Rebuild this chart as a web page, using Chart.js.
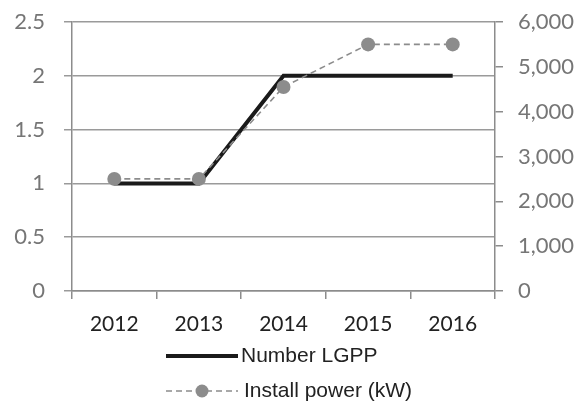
<!DOCTYPE html>
<html>
<head>
<meta charset="utf-8">
<script src="https://cdn.jsdelivr.net/npm/chart.js@4"></script>
<style>
  html, body { margin: 0; padding: 0; background: #fff; }
  #wrap { width: 583px; height: 407px; }
</style>
</head>
<body>
<div id="wrap"><canvas id="graph" width="583" height="407"></canvas></div>
<script>
// donnees du graphique
var annees = ["2012", "2013", "2014", "2015", "2016"];
var nombreLGPP = [1, 1, 2, 2, 2];
var puissance = [2500, 2500, 4550, 5500, 5500];
var labelsSeries = ["Number LGPP", "Install power (kW)"];

var gris = '#8c8c8c';
var grisTexte = '#767676';

/* legende dessinee a la main sous le graphique */
var legendeBas = {
    id: 'legendeBas',
    afterDraw: function(chart) {
        var ctx = chart.ctx;
        var ds = chart.data.datasets;
        ctx.save();
        ctx.font = '21px "Liberation Sans", Arial, sans-serif';
        ctx.fillStyle = '#222';
        ctx.textBaseline = 'middle';

        // ligne noire
        var y1 = 356;
        ctx.strokeStyle = ds[0].borderColor;
        ctx.lineWidth = ds[0].borderWidth;
        ctx.beginPath();
        ctx.moveTo(166, y1);
        ctx.lineTo(238, y1);
        ctx.stroke();
        ctx.fillText(ds[0].label, 241, y1);

        // ligne pointillee + point
        var y2 = 391;
        ctx.strokeStyle = ds[1].borderColor;
        ctx.lineWidth = ds[1].borderWidth;
        ctx.setLineDash(ds[1].borderDash);
        ctx.beginPath();
        ctx.moveTo(166, y2);
        ctx.lineTo(238, y2);
        ctx.stroke();
        ctx.setLineDash([]);
        ctx.fillStyle = ds[1].pointBackgroundColor;
        ctx.beginPath();
        ctx.arc(202, y2, 6.5, 0, Math.PI * 2);
        ctx.fill();
        ctx.fillStyle = '#222';
        ctx.fillText(ds[1].label, 244, y2);
        ctx.restore();
    }
};

// enlever le padding auto des axes verticaux
function fixerAxe(largeur) {
    return function(axis) {
        axis.width = largeur;
        axis.paddingTop = 0;
        axis.paddingBottom = 0;
    };
}

var graph = document.getElementById("graph").getContext("2d");

var myChart = new Chart(graph, {
    type: "line",
    data: {
        labels: annees,
        datasets: [{
            label: labelsSeries[0],
            data: nombreLGPP,
            yAxisID: 'y',
            borderColor: '#1a1a1a',
            borderWidth: 4,
            pointRadius: 0,
            tension: 0,
            order: 2,
        }, {
            label: labelsSeries[1],
            data: puissance,
            yAxisID: 'y1',
            borderColor: gris,
            borderWidth: 1.6,
            borderDash: [6, 4],
            pointRadius: 7,
            pointBackgroundColor: gris,
            pointBorderColor: gris,
            pointBorderWidth: 0,
            tension: 0,
            order: 1,
        }],
    },
    options: {
        responsive: false,
        animation: false,
        layout: {
            padding: { top: 22, bottom: 66, left: 0, right: 0 },
        },
        plugins: {
            legend: { display: false },
            tooltip: { enabled: false },
        },
        scales: {
            x: {
                offset: true,
                grid: {
                    offset: true,
                    drawOnChartArea: false,
                    drawTicks: true,
                    tickLength: 8,
                    color: gris,
                    lineWidth: 1.5,
                },
                border: { color: gris, width: 1.5 },
                ticks: {
                    color: '#222',
                    padding: 13,
                    font: { family: 'Lato, "Open Sans", sans-serif', size: 21 },
                },
                afterFit: function(axis) { axis.height = 50; },
            },
            y: {
                position: 'left',
                min: 0,
                max: 2.5,
                ticks: {
                    stepSize: 0.5,
                    color: grisTexte,
                    padding: 19,
                    font: { family: 'Lato, "Open Sans", sans-serif', size: 22 },
                    callback: function(v) { return v.toString(); },
                },
                grid: {
                    color: '#9a9a9a',
                    lineWidth: 1.5,
                    tickLength: 8,
                },
                border: { color: gris, width: 1.5 },
                afterFit: fixerAxe(72),
            },
            y1: {
                position: 'right',
                min: 0,
                max: 6000,
                ticks: {
                    stepSize: 1000,
                    color: grisTexte,
                    padding: 15,
                    font: { family: 'Lato, "Open Sans", sans-serif', size: 22 },
                    callback: function(v) { return v.toLocaleString('en-US'); },
                },
                grid: {
                    drawOnChartArea: false,
                    color: gris,
                    lineWidth: 1.5,
                    tickLength: 8,
                },
                border: { color: gris, width: 1.5 },
                afterFit: fixerAxe(88),
            },
        },
    },
    plugins: [legendeBas],
});
</script>
</body>
</html>
